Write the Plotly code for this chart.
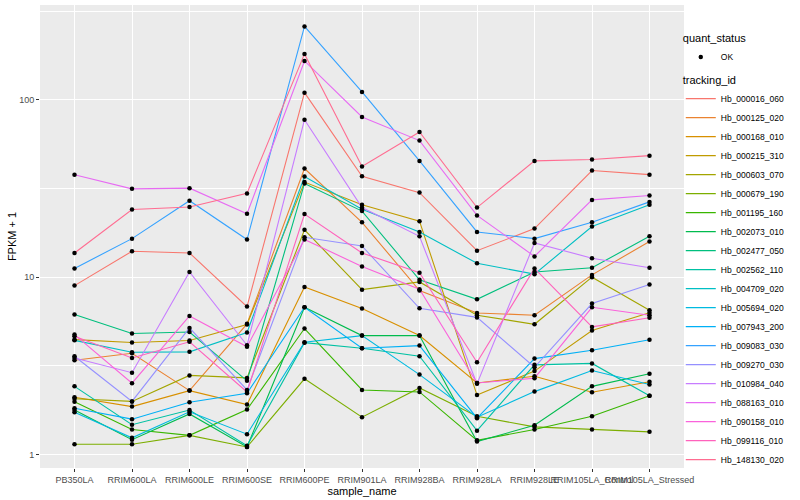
import plotly.graph_objects as go

samples = ["PB350LA", "RRIM600LA", "RRIM600LE", "RRIM600SE", "RRIM600PE", "RRIM901LA",
           "RRIM928BA", "RRIM928LA", "RRIM928LE", "RRIM105LA_Control", "RRIM105LA_Stressed"]

tracking_ids = ["Hb_000016_060", "Hb_000125_020", "Hb_000168_010", "Hb_000215_310",
                "Hb_000603_070", "Hb_000679_190", "Hb_001195_160", "Hb_002073_010",
                "Hb_002477_050", "Hb_002562_110", "Hb_004709_020", "Hb_005694_020",
                "Hb_007943_200", "Hb_009083_030", "Hb_009270_030", "Hb_010984_040",
                "Hb_088163_010", "Hb_090158_010", "Hb_099116_010", "Hb_148130_020"]

# FPKM + 1 values per gene, in sample order
Hb_000016_060 = [8.96, 14.0, 13.7, 6.82, 110, 37.1, 30.0, 14.1, 18.8, 40.0, 37.9]
Hb_000125_020 = [3.40, 3.72, 2.29, 5.45, 41.0, 20.4, 8.4, 6.28, 6.1, 10.3, 15.9]
Hb_000168_010 = [2.10, 1.86, 2.29, 1.91, 8.81, 6.65, 4.68, 2.53, 2.76, 2.24, 2.57]
Hb_000215_310 = [4.44, 4.28, 4.39, 5.40, 34.4, 25.6, 20.7, 2.16, 2.95, 5.0, 6.3]
Hb_000603_070 = [2.06, 1.99, 2.79, 2.70, 18.5, 8.5, 9.4, 6.1, 5.42, 10.0, 6.5]
Hb_000679_190 = [1.14, 1.14, 1.28, 1.10, 2.67, 1.62, 2.37, 1.64, 1.43, 1.38, 1.34]
Hb_001195_160 = [1.98, 1.38, 1.28, 1.79, 5.13, 2.31, 2.25, 1.20, 1.38, 1.64, 2.14]
Hb_002073_010 = [1.78, 1.21, 1.69, 1.10, 6.76, 4.68, 4.68, 1.18, 1.46, 2.42, 2.85]
Hb_002477_050 = [6.15, 4.81, 4.90, 2.60, 33.8, 23.6, 9.67, 7.5, 10.7, 11.3, 17.0]
Hb_002562_110 = [2.42, 1.47, 1.78, 1.12, 4.27, 3.97, 3.58, 1.36, 3.2, 3.26, 2.14]
Hb_004709_020 = [4.40, 3.77, 3.79, 4.87, 37.0, 24.2, 18.0, 11.97, 10.4, 19.3, 25.6]
Hb_005694_020 = [1.73, 1.24, 1.74, 1.30, 4.29, 4.68, 2.82, 1.62, 2.26, 2.97, 2.48]
Hb_007943_200 = [1.82, 1.58, 1.97, 2.21, 6.76, 3.97, 4.11, 1.60, 3.47, 3.87, 4.43]
Hb_009083_030 = [11.2, 16.5, 27.0, 16.3, 260, 111, 45.3, 18.0, 16.5, 20.4, 26.6]
Hb_009270_030 = [3.58, 1.99, 5.17, 2.31, 16.8, 15.0, 6.67, 5.93, 3.1, 7.1, 9.08]
Hb_010984_040 = [3.50, 2.89, 10.7, 4.13, 77.4, 24.7, 17.0, 2.50, 15.6, 12.8, 11.3]
Hb_088163_010 = [37.8, 31.5, 31.8, 22.8, 166, 80.2, 59.0, 22.3, 13.1, 27.3, 28.9]
Hb_090158_010 = [4.74, 2.52, 6.04, 4.05, 16.3, 11.5, 8.56, 2.53, 2.69, 6.76, 6.1]
Hb_099116_010 = [4.64, 3.50, 4.32, 2.25, 22.7, 13.7, 10.6, 3.31, 11.2, 5.24, 5.9]
Hb_148130_020 = [13.7, 24.1, 24.9, 29.7, 182, 42.1, 66.0, 24.7, 45.3, 46.1, 48.5]

series_values = [Hb_000016_060, Hb_000125_020, Hb_000168_010, Hb_000215_310, Hb_000603_070,
                 Hb_000679_190, Hb_001195_160, Hb_002073_010, Hb_002477_050, Hb_002562_110,
                 Hb_004709_020, Hb_005694_020, Hb_007943_200, Hb_009083_030, Hb_009270_030,
                 Hb_010984_040, Hb_088163_010, Hb_090158_010, Hb_099116_010, Hb_148130_020]

colors = ["#F8766D", "#EA8331", "#D89000", "#C09B00", "#A3A500", "#7CAE00", "#39B600",
          "#00BB4E", "#00BF7D", "#00C1A3", "#00BFC4", "#00BAE0", "#00B0F6", "#35A2FF",
          "#9590FF", "#C77CFF", "#E76BF3", "#FA62DB", "#FF62BC", "#FF6C91"]

y_tick_vals = [1, 10, 100]
y_tick_text = ["1", "10", "100"]

FONT = "Liberation Sans, Arial, sans-serif"

fig = go.Figure()

for name, vals, col in zip(tracking_ids, series_values, colors):
    fig.add_trace(go.Scatter(
        x=samples, y=vals, mode="lines", name=name,
        line=dict(color=col, width=1.1),
        legend="legend2", showlegend=True,
    ))

all_x = [s for vals in series_values for s in samples]
all_y = [v for vals in series_values for v in vals]
fig.add_trace(go.Scatter(
    x=all_x, y=all_y, mode="markers", name="OK",
    marker=dict(color="black", size=4.5, symbol="circle"),
    legend="legend", showlegend=True,
))

fig.update_layout(
    width=800, height=500,
    margin=dict(l=40, r=116, t=5, b=32),
    paper_bgcolor="white",
    plot_bgcolor="#EBEBEB",
    font=dict(family=FONT, size=9, color="#4D4D4D"),
    xaxis=dict(
        type="category", categoryorder="array", categoryarray=samples,
        range=[-0.6, 10.6], tickangle=0,
        showgrid=True, gridcolor="white", gridwidth=1.1,
        ticks="outside", ticklen=3, tickcolor="#333333", tickwidth=1,
        tickfont=dict(size=9, color="#4D4D4D", family=FONT),
        zeroline=False, showline=False,
        title=dict(text="sample_name", font=dict(size=11, color="black", family=FONT), standoff=2),
    ),
    yaxis=dict(
        type="log", range=[-0.077, 2.536],
        tickmode="array", tickvals=y_tick_vals, ticktext=y_tick_text,
        showgrid=True, gridcolor="white", gridwidth=1.1,
        minor=dict(tickmode="array", tickvals=[10 ** 0.5, 10 ** 1.5, 10 ** 2.5],
                   showgrid=True, gridcolor="white", gridwidth=0.5, ticks=""),
        ticks="outside", ticklen=3, tickcolor="#333333", tickwidth=1,
        tickfont=dict(size=9, color="#4D4D4D", family=FONT),
        zeroline=False, showline=False,
        title=dict(text="FPKM + 1", font=dict(size=11, color="black", family=FONT), standoff=0),
    ),
    legend=dict(
        title=dict(text="quant_status", font=dict(size=11, color="black", family=FONT)),
        font=dict(size=8.5, color="black", family=FONT),
        x=0.995, xanchor="left", y=0.95, yanchor="top",
        bgcolor="rgba(255,255,255,0)",
    ),
    legend2=dict(
        title=dict(text="tracking_id", font=dict(size=11, color="black", family=FONT)),
        font=dict(size=8.5, color="black", family=FONT),
        x=0.995, xanchor="left", y=0.86, yanchor="top",
        bgcolor="rgba(255,255,255,0)",
        tracegroupgap=0,
    ),
)

fig.write_html("out.html", config={"displayModeBar": False},
               post_script="document.body.style.margin='0px';")
